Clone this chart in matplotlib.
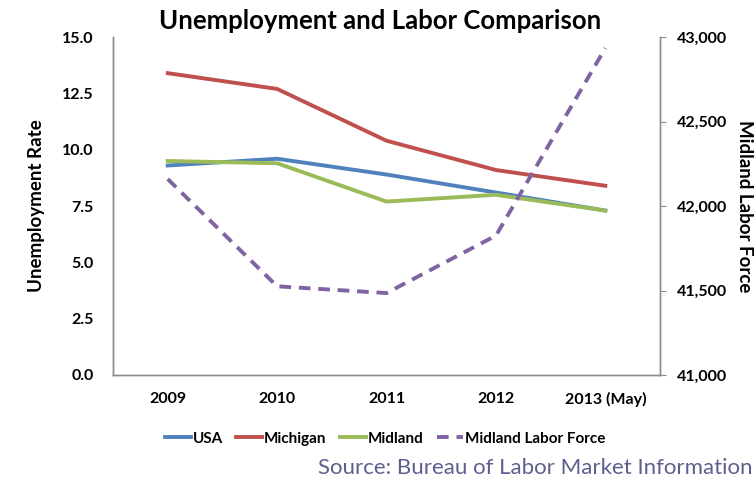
import matplotlib
matplotlib.use('Agg')
import matplotlib.pyplot as plt
from matplotlib.ticker import FuncFormatter

years = ['2009', '2010', '2011', '2012', '2013 (May)']
usa = [9.3, 9.6, 8.9, 8.1, 7.3]
michigan = [13.4, 12.7, 10.4, 9.1, 8.4]
midland = [9.5, 9.4, 7.7, 8.0, 7.3]
labor_force = [42160, 41525, 41485, 41825, 42935]

plt.rcParams['font.family'] = ['Lato', 'DejaVu Sans']

fig = plt.figure(figsize=(7.55, 4.82), dpi=100)
ax = fig.add_axes([0.1497, 0.222, 0.7245, 0.701])
ax2 = ax.twinx()

x = list(range(len(years)))
lw = 2.8
l1, = ax.plot(x, usa, color='#4F81BD', lw=lw, label='USA')
l2, = ax.plot(x, michigan, color='#C0504D', lw=lw, label='Michigan')
l3, = ax.plot(x, midland, color='#9BBB59', lw=lw, label='Midland')
l4, = ax2.plot(x, labor_force, color='#8064A2', lw=lw, ls=(0, (3, 2)), label='Midland Labor Force')

ax.set_xlim(-0.5, len(years) - 0.5)
ax.set_ylim(0, 15)
ax.set_yticks([0, 2.5, 5, 7.5, 10, 12.5, 15])
ax.yaxis.set_major_formatter(FuncFormatter(lambda v, p: f'{v:.1f}'))
ax2.set_ylim(41000, 43000)
ax2.set_yticks([41000, 41500, 42000, 42500, 43000])
ax2.yaxis.set_major_formatter(FuncFormatter(lambda v, p: f'{int(v):,}'))

ax.set_xticks(x)
ax.set_xticklabels(years)

for a in (ax, ax2):
    a.spines['top'].set_visible(False)
    for s in ('left', 'right', 'bottom'):
        a.spines[s].set_color('#8c8c8c')
        a.spines[s].set_linewidth(1)
ax.tick_params(axis='y', length=0, pad=14, labelsize=11.5)
ax.tick_params(axis='x', length=0, pad=12, labelsize=11.5)
ax2.tick_params(axis='y', length=4, color='#8c8c8c', pad=8, labelsize=11.5)
for lab in ax.get_xticklabels() + ax.get_yticklabels() + ax2.get_yticklabels():
    lab.set_fontweight('bold')

ax.set_ylabel('Unemployment Rate', fontsize=13.5, fontweight='bold', labelpad=12)
ax2.set_ylabel('Midland Labor Force', fontsize=13.5, fontweight='bold', rotation=270, labelpad=19)

fig.text(0.503, 0.956, 'Unemployment and Labor Comparison', ha='center', va='center',
         fontsize=18.5, fontweight='bold')

fig.legend(handles=[l1, l2, l3, l4], loc='center', bbox_to_anchor=(0.51, 0.09), ncol=4,
           frameon=False, prop={'weight': 'bold', 'size': 11}, handlelength=1.7,
           handletextpad=0.1, columnspacing=0.9)

fig.text(0.997, 0.03, 'Source: Bureau of Labor Market Information', ha='right', va='center',
         fontsize=16, color='#5f5f8f')

fig.savefig('out.png', dpi=100)
